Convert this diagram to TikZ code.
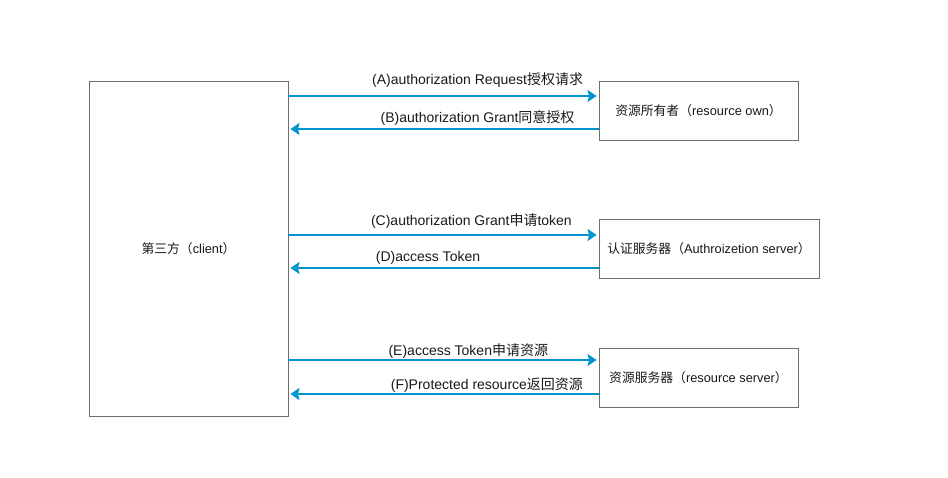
\documentclass[tikz,border=0pt]{standalone}
\usepackage{fontspec}
\setmainfont{Liberation Sans}
\newfontfamily\cjk{Noto Sans CJK SC}
\usetikzlibrary{arrows.meta}
\definecolor{flowblue}{RGB}{0,149,204}
\definecolor{boxgray}{RGB}{110,110,110}
\tikzset{
	party/.style={draw=boxgray, line width=0.9pt, fill=white, inner sep=0pt,
		font=\fontsize{12.8}{15}\selectfont, text=black!90},
	flow/.style={draw=flowblue, line width=1.8pt, shorten >=2pt,
		-{Stealth[length=9pt,width=12pt,inset=1.5pt]}},
	msg/.style={font=\fontsize{14}{16}\selectfont, text=black!90, inner sep=0pt}
}
\begin{document}
\begin{tikzpicture}[x=1pt,y=-1pt]
\useasboundingbox (0,0) rectangle (948,478);

%Beteiligte
\node[party, minimum width=199pt, minimum height=335pt] (client) at (188.5,248.5) {{\cjk 第三方（}client{\cjk ）}};
\node[party, minimum width=199pt, minimum height=59pt] (owner) at (698.5,110.5) {{\cjk 资源所有者（}resource own{\cjk ）}};
\node[party, minimum width=220pt, minimum height=59pt] (authsrv) at (709,248.5) {{\cjk 认证服务器（}Authroizetion server{\cjk ）}};
\node[party, minimum width=199pt, minimum height=59pt] (ressrv) at (698.5,377.5) {{\cjk 资源服务器（}resource server{\cjk ）}};

%Andockpunkte
\coordinate (pA) at ([yshift=14.5pt]owner.west);
\coordinate (pB) at ([yshift=-18.5pt]owner.west);
\coordinate (pC) at ([yshift=13.5pt]authsrv.west);
\coordinate (pD) at ([yshift=-19.5pt]authsrv.west);
\coordinate (pE) at ([yshift=17.5pt]ressrv.west);
\coordinate (pF) at ([yshift=-16.5pt]ressrv.west);

%Nachrichten
\draw[flow] (client.east |- pA) -- (pA)
	node[msg, pos=0.61, above=8pt] {(A)authorization Request{\cjk 授权请求}};
\draw[flow] (pB) -- (client.east |- pB)
	node[msg, pos=0.39, above=3pt] {(B)authorization Grant{\cjk 同意授权}};
\draw[flow] (client.east |- pC) -- (pC)
	node[msg, pos=0.59, above=6pt] {(C)authorization Grant{\cjk 申请}token};
\draw[flow] (pD) -- (client.east |- pD)
	node[msg, pos=0.55, above=3pt] {(D)access Token};
\draw[flow] (client.east |- pE) -- (pE)
	node[msg, pos=0.58, above=1pt] {(E)access Token{\cjk 申请资源}};
\draw[flow] (pF) -- (client.east |- pF)
	node[msg, pos=0.36, above=1pt] {(F)Protected resource{\cjk 返回资源}};

\end{tikzpicture}
\end{document}
